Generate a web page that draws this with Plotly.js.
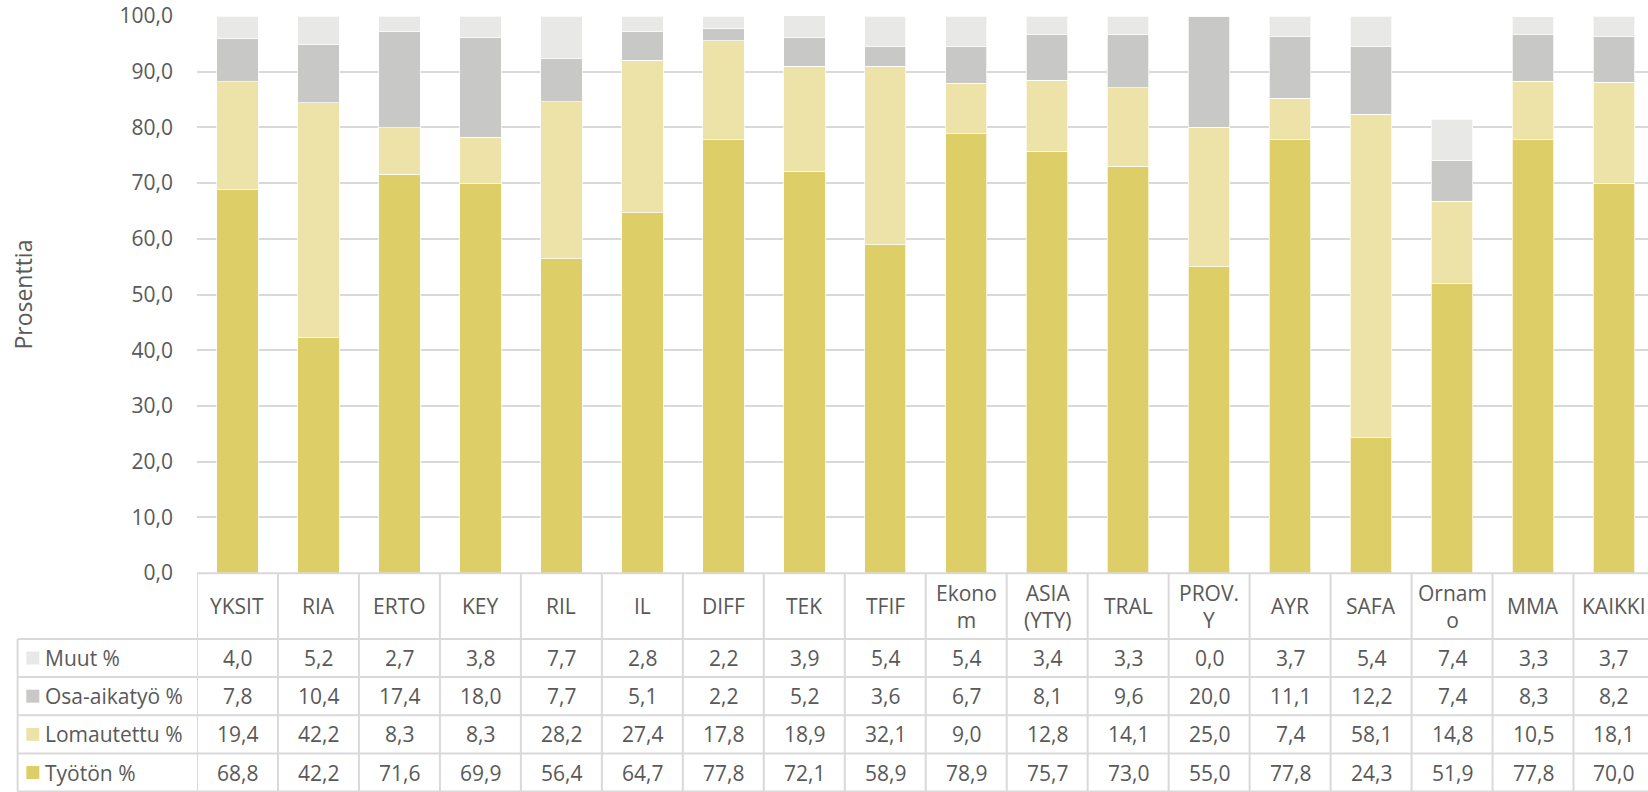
<!DOCTYPE html>
<html>
<head>
<meta charset="utf-8">
<script src="https://cdn.plot.ly/plotly-3.0.1.min.js"></script>
<style>html,body{margin:0;padding:0;overflow:hidden;background:#fff}</style>
</head>
<body>
<div id="chart" style="width:1648px;height:792px"></div>
<script>
const categories = ["YKSIT","RIA","ERTO","KEY","RIL","IL","DIFF","TEK","TFIF","Ekono<br>m","ASIA<br>(YTY)","TRAL","PROV.<br>Y","AYR","SAFA","Ornam<br>o","MMA","KAIKKI"];
const tyoton     = [68.8,42.2,71.6,69.9,56.4,64.7,77.8,72.1,58.9,78.9,75.7,73.0,55.0,77.8,24.3,51.9,77.8,70.0];
const lomautettu = [19.4,42.2,8.3,8.3,28.2,27.4,17.8,18.9,32.1,9.0,12.8,14.1,25.0,7.4,58.1,14.8,10.5,18.1];
const osaaika    = [7.8,10.4,17.4,18.0,7.7,5.1,2.2,5.2,3.6,6.7,8.1,9.6,20.0,11.1,12.2,7.4,8.3,8.2];
const muut       = [4.0,5.2,2.7,3.8,7.7,2.8,2.2,3.9,5.4,5.4,3.4,3.3,0.0,3.7,5.4,7.4,3.3,3.7];
const seriesNames = ["Muut %","Osa-aikatyö %","Lomautettu %","Työtön %"];
const yTicks = [0,10,20,30,40,50,60,70,80,90,100];

const colors = {"Työtön %":"#DECE67","Lomautettu %":"#EDE3A8","Osa-aikatyö %":"#C8C8C6","Muut %":"#E8E8E7"};
const dataBySeries = {"Muut %":muut,"Osa-aikatyö %":osaaika,"Lomautettu %":lomautettu,"Työtön %":tyoton};

const W = 1648, H = 792;
const L = 196.7, T = 15.5, B = 573;
const PH = B - T, PW = W - L;
const py = p => (B - p) / PH;      // pixel y -> paper y
const px = p => (p - L) / PW;      // pixel x -> paper x
const textColor = "#595959";
const lineColor = "#D9D9D9";
const font = "Open Sans, Lato, sans-serif";
const fs = 21;
const idx = categories.map((c,i)=>i);
const fmt = v => v.toFixed(1).replace(".", ",");

const stackOrder = ["Työtön %","Lomautettu %","Osa-aikatyö %","Muut %"];
const traces = stackOrder.map(n => ({
  type: "bar", name: n, x: idx, y: dataBySeries[n],
  marker: {color: colors[n], line: {color: "rgba(255,255,255,0.7)", width: 1}},
  hoverinfo: "skip"
}));

const shapes = [];
const annotations = [];
const rowTop = 573.3, headerBottom = 639, rowH = 38.2;
const nRows = seriesNames.length;
const tableBottom = headerBottom + rowH * nRows;
const lineW = 2;

// horizontal lines
shapes.push({type:"line", xref:"x", yref:"paper", x0:-0.5, x1:categories.length-0.5, y0:py(rowTop), y1:py(rowTop), line:{color:lineColor,width:lineW}});
for (let r = 0; r <= nRows; r++) {
  const yy = py(headerBottom + r*rowH);
  shapes.push({type:"line", xref:"paper", yref:"paper", x0:px(17.3), x1:1.2, y0:yy, y1:yy, line:{color:lineColor,width:lineW}});
}
// vertical lines
for (let i = 0; i <= categories.length; i++) {
  shapes.push({type:"line", xref:"x", yref:"paper", x0:i-0.5, x1:i-0.5, y0:py(rowTop), y1:py(tableBottom), line:{color:lineColor,width:lineW}});
}
shapes.push({type:"line", xref:"paper", yref:"paper", x0:px(17.3), x1:px(17.3), y0:py(headerBottom), y1:py(tableBottom), line:{color:lineColor,width:lineW}});

// header
categories.forEach((c,i) => {
  annotations.push({xref:"x", yref:"paper", x:i, y:py((rowTop+headerBottom)/2), text:c, showarrow:false,
    xanchor:"center", yanchor:"middle", font:{family:font, size:fs, color:textColor}});
});
// rows
seriesNames.forEach((n, r) => {
  const cy = headerBottom + r*rowH + rowH/2;
  shapes.push({type:"rect", xref:"paper", yref:"paper", x0:px(26), x1:px(39), y0:py(cy-6.5), y1:py(cy+6.5), fillcolor:colors[n], line:{width:0}});
  annotations.push({xref:"paper", yref:"paper", x:px(43), y:py(cy), text:n, showarrow:false,
    xanchor:"left", yanchor:"middle", font:{family:font, size:fs, color:textColor}});
  dataBySeries[n].forEach((v,i) => {
    annotations.push({xref:"x", yref:"paper", x:i, y:py(cy), text:fmt(v), showarrow:false,
      xanchor:"center", yanchor:"middle", font:{family:font, size:fs, color:textColor}});
  });
});
// y-axis title
annotations.push({xref:"paper", yref:"paper", x:px(23), y:py(294), text:"Prosenttia", textangle:-90, showarrow:false,
  xanchor:"center", yanchor:"middle", font:{family:font, size:23, color:textColor}});

const layout = {
  width: W, height: H,
  margin: {l: L, r: 0, t: T, b: H - B, pad: 0},
  paper_bgcolor: "#fff", plot_bgcolor: "#fff",
  barmode: "stack", bargap: 0.488,
  showlegend: false,
  separators: ",.",
  font: {family: font, color: textColor},
  xaxis: {range: [-0.5, 17.42], showticklabels: false, showgrid: false, zeroline: false, ticks: "", showline: false, fixedrange: true},
  yaxis: {range: [0, 100], tickvals: yTicks, tickformat: ".1f", showgrid: true, gridcolor: lineColor, gridwidth: 2,
    zeroline: false, showline: false, ticks: "", ticklabelstandoff: 23,
    tickfont: {family: font, size: fs, color: textColor}, fixedrange: true},
  shapes: shapes,
  annotations: annotations
};

Plotly.newPlot("chart", traces, layout, {displayModeBar: false, staticPlot: true});
</script>
</body>
</html>
